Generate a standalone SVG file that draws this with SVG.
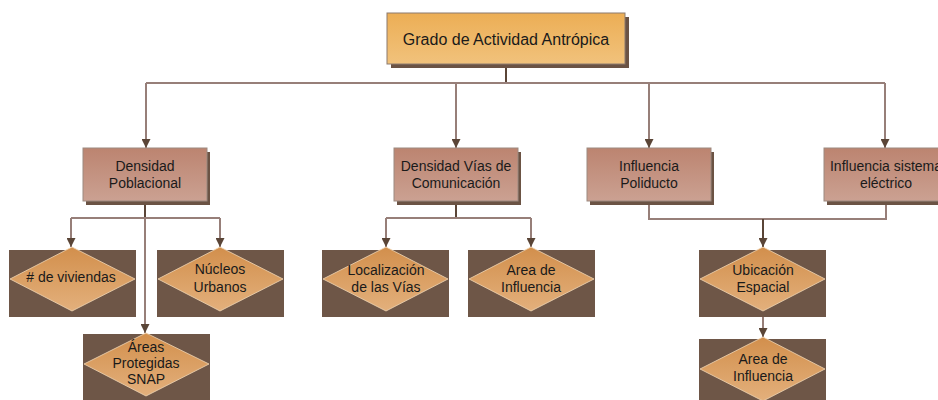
<svg xmlns="http://www.w3.org/2000/svg" width="938" height="400" viewBox="0 0 938 400">
<defs>
<linearGradient id="gTop" x1="0" y1="0" x2="0" y2="1"><stop offset="0" stop-color="#ECAE55"/><stop offset="1" stop-color="#F1C27C"/></linearGradient>
<linearGradient id="gMid" x1="0" y1="0" x2="0" y2="1"><stop offset="0" stop-color="#BC8470"/><stop offset="1" stop-color="#CBA192"/></linearGradient>
<linearGradient id="gDia" x1="0" y1="0" x2="0" y2="1"><stop offset="0" stop-color="#D28F4C"/><stop offset="1" stop-color="#E3B07C"/></linearGradient>
<marker id="arr" viewBox="0 0 10 10" refX="10" refY="5" markerWidth="9" markerHeight="9" markerUnits="userSpaceOnUse" orient="auto"><path d="M0,0 L10,5 L0,10 Z" fill="#5A4537"/></marker>
<style>
.sh{fill:#6B5344}
.top{fill:url(#gTop);stroke:#8C7A6E;stroke-width:1}
.mid{fill:url(#gMid);stroke:#9C8A80;stroke-width:1}
.bg{fill:#6E5647}
.dia{fill:url(#gDia);stroke:#F0D6B4;stroke-width:0.8}
.ln{fill:none;stroke:#977F79;stroke-width:2}
.st{fill:none;stroke:#5A4537;stroke-width:2}
.ar{marker-end:url(#arr)}
text{font-family:"Liberation Sans",Arial,sans-serif;font-size:14px;fill:#1A1A1A;text-anchor:middle}
.t16{font-size:16px}
</style>
</defs>
<g id="connectors">
<path class="st" d="M506,64 V83"/>
<path class="ln" d="M146,83 H885"/>
<path class="ln ar" d="M146,83 V148"/>
<path class="ln ar" d="M456,83 V148"/>
<path class="ln ar" d="M649,83 V148"/>
<path class="ln ar" d="M885,83 V148"/>
<path class="st" d="M145,201 V218"/>
<path class="ln" d="M71,218 H220"/>
<path class="ln ar" d="M71,218 V247"/>
<path class="ln ar" d="M220,218 V247"/>
<path class="ln ar" d="M145,218 V333"/>
<path class="st" d="M456,201 V218"/>
<path class="ln" d="M386,218 H531"/>
<path class="ln ar" d="M386,218 V247"/>
<path class="ln ar" d="M531,218 V247"/>
<path class="ln" d="M649,201 V219 H886 V201"/>
<path class="st ar" d="M763,219 V247"/>
<path class="ln ar" d="M763,317 V337"/>
</g>
<g id="n-grado">
<rect class="sh" x="391" y="17" width="238" height="51"/>
<rect class="top" x="387" y="13" width="238" height="51"/>
<text class="t16" x="506" y="45">Grado de Actividad Antrópica</text>
</g>
<g id="n-densidad-poblacional">
<rect class="sh" x="86" y="152" width="124" height="53"/>
<rect class="mid" x="83" y="148" width="124" height="53"/>
<text x="145" y="171">Densidad</text>
<text x="145" y="188">Poblacional</text>
</g>
<g id="n-densidad-vias">
<rect class="sh" x="397" y="152" width="124" height="53"/>
<rect class="mid" x="394" y="148" width="124" height="53"/>
<text x="456" y="171">Densidad Vías de</text>
<text x="456" y="188">Comunicación</text>
</g>
<g id="n-influencia-poliducto">
<rect class="sh" x="590" y="152" width="124" height="53"/>
<rect class="mid" x="587" y="148" width="124" height="53"/>
<text x="649" y="171">Influencia</text>
<text x="649" y="188">Poliducto</text>
</g>
<g id="n-influencia-electrico">
<rect class="sh" x="827" y="152" width="124" height="53"/>
<rect class="mid" x="824" y="148" width="124" height="53"/>
<text x="886" y="171">Influencia sistema</text>
<text x="886" y="188">eléctrico</text>
</g>
<g id="n-viviendas">
<rect class="bg" x="9" y="250" width="127" height="67"/>
<polygon class="dia" points="72,247 135,279 72,311 10,279"/>
<text x="71" y="282"># de viviendas</text>
</g>
<g id="n-nucleos">
<rect class="bg" x="157" y="250" width="127" height="67"/>
<polygon class="dia" points="220,247 283,279 220,311 158,279"/>
<text x="220" y="274">Núcleos</text>
<text x="220" y="292">Urbanos</text>
</g>
<g id="n-areas">
<rect class="bg" x="83" y="334" width="127" height="66"/>
<polygon class="dia" points="146,333 209,364 146,396 84,364"/>
<text x="146" y="352">Áreas</text>
<text x="146" y="368">Protegidas</text>
<text x="146" y="384">SNAP</text>
</g>
<g id="n-localizacion">
<rect class="bg" x="322" y="250" width="127" height="67"/>
<polygon class="dia" points="386,247 448,279 386,311 323,279"/>
<text x="386" y="275">Localización</text>
<text x="386" y="292">de las Vías</text>
</g>
<g id="n-area-influencia-1">
<rect class="bg" x="468" y="250" width="127" height="67"/>
<polygon class="dia" points="531,247 594,279 531,311 469,279"/>
<text x="531" y="275">Area de</text>
<text x="531" y="292">Influencia</text>
</g>
<g id="n-ubicacion">
<rect class="bg" x="699" y="250" width="127" height="67"/>
<polygon class="dia" points="763,247 825,279 763,311 700,279"/>
<text x="763" y="275">Ubicación</text>
<text x="763" y="292">Espacial</text>
</g>
<g id="n-area-influencia-2">
<rect class="bg" x="699" y="339" width="127" height="61"/>
<polygon class="dia" points="763,337 825,369 763,401 700,369"/>
<text x="763" y="364">Area de</text>
<text x="763" y="381">Influencia</text>
</g>
</svg>
